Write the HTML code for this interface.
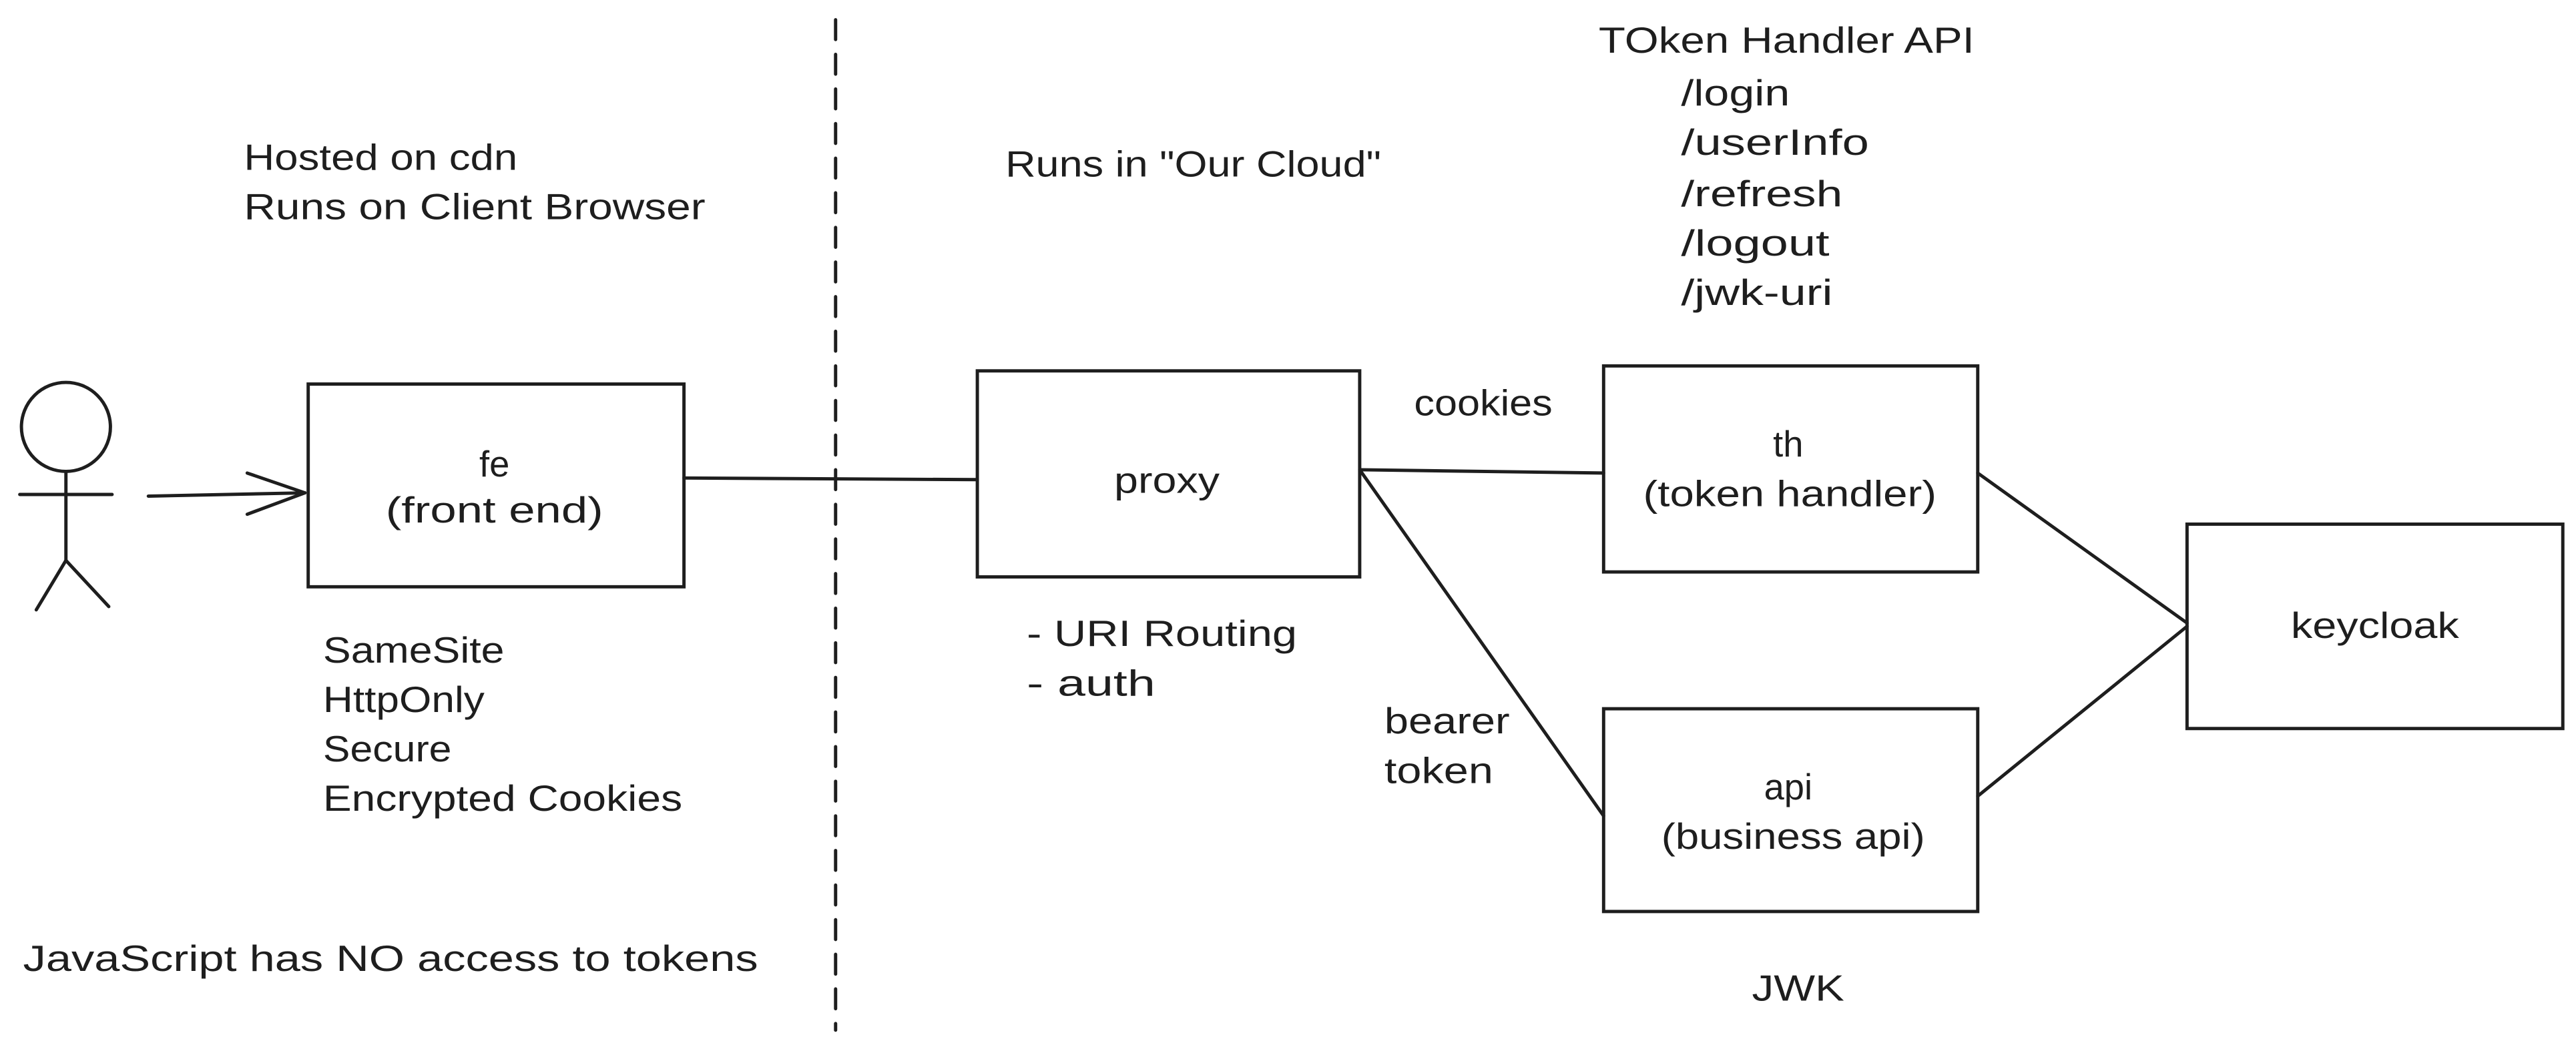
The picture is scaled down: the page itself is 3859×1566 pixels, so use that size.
<!DOCTYPE html>
<html><head><meta charset="utf-8"><style>
html,body{margin:0;padding:0;background:#fff;}
svg{display:block;}
text{font-family:"Liberation Sans",sans-serif;font-size:22px;fill:#1e1e1e;}
</style></head><body>
<svg width="3859" height="1566" viewBox="0 0 1563 634" preserveAspectRatio="none" xmlns="http://www.w3.org/2000/svg">
<rect width="1563" height="634" fill="#fff"/>
<g stroke="#1e1e1e" stroke-width="2" fill="none" stroke-linecap="round">
<!-- stick figure -->
<circle cx="40" cy="259" r="27"/>
<line x1="40" y1="286" x2="40" y2="340"/>
<line x1="12" y1="300" x2="68" y2="300"/>
<line x1="40" y1="340" x2="22" y2="370"/>
<line x1="40" y1="340" x2="66" y2="368"/>
<!-- arrow -->
<line x1="90" y1="301" x2="185" y2="299"/>
<line x1="185" y1="299" x2="150" y2="287"/>
<line x1="185" y1="299" x2="150" y2="312"/>
<!-- dashed divider -->
<line x1="507" y1="12" x2="507" y2="625" stroke-dasharray="12,9"/>
<!-- boxes -->
<rect x="187" y="233" width="228" height="123"/>
<rect x="593" y="225" width="232" height="125"/>
<rect x="973" y="222" width="227" height="125"/>
<rect x="973" y="430" width="227" height="123"/>
<rect x="1327" y="318" width="228" height="124"/>
<!-- connectors -->
<line x1="415" y1="290" x2="593" y2="291"/>
<line x1="825" y1="285" x2="973" y2="287"/>
<line x1="825" y1="285" x2="973" y2="495"/>
<line x1="1200" y1="287" x2="1327" y2="378"/>
<line x1="1200" y1="483" x2="1327" y2="380"/>
</g>
<g text-anchor="middle">
<text x="300" y="289">fe</text>
<text x="300" y="317" textLength="132" lengthAdjust="spacingAndGlyphs">(front end)</text>
<text x="708" y="299" textLength="64" lengthAdjust="spacingAndGlyphs">proxy</text>
<text x="1085" y="277">th</text>
<text x="1086" y="307" textLength="178" lengthAdjust="spacingAndGlyphs">(token handler)</text>
<text x="1085" y="485">api</text>
<text x="1088" y="515" textLength="160" lengthAdjust="spacingAndGlyphs">(business api)</text>
<text x="1441" y="387" textLength="102" lengthAdjust="spacingAndGlyphs">keycloak</text>
</g>
<text x="148" y="103" textLength="166" lengthAdjust="spacingAndGlyphs">Hosted on cdn</text>
<text x="148" y="133" textLength="280" lengthAdjust="spacingAndGlyphs">Runs on Client Browser</text>
<text x="610" y="107" textLength="228" lengthAdjust="spacingAndGlyphs">Runs in "Our Cloud"</text>
<text x="970" y="32" textLength="228" lengthAdjust="spacingAndGlyphs">TOken Handler API</text>
<text x="1020" y="64" textLength="66" lengthAdjust="spacingAndGlyphs">/login</text>
<text x="1020" y="94" textLength="114" lengthAdjust="spacingAndGlyphs">/userInfo</text>
<text x="1020" y="125" textLength="98" lengthAdjust="spacingAndGlyphs">/refresh</text>
<text x="1020" y="155" textLength="90" lengthAdjust="spacingAndGlyphs">/logout</text>
<text x="1020" y="185" textLength="92" lengthAdjust="spacingAndGlyphs">/jwk-uri</text>
<text x="858" y="252" textLength="84" lengthAdjust="spacingAndGlyphs">cookies</text>
<text x="840" y="445" textLength="76" lengthAdjust="spacingAndGlyphs">bearer</text>
<text x="840" y="475" textLength="66" lengthAdjust="spacingAndGlyphs">token</text>
<text x="623" y="392" textLength="164" lengthAdjust="spacingAndGlyphs">- URI Routing</text>
<text x="623" y="422" textLength="78" lengthAdjust="spacingAndGlyphs">- auth</text>
<text x="196" y="402" textLength="110" lengthAdjust="spacingAndGlyphs">SameSite</text>
<text x="196" y="432" textLength="98" lengthAdjust="spacingAndGlyphs">HttpOnly</text>
<text x="196" y="462" textLength="78" lengthAdjust="spacingAndGlyphs">Secure</text>
<text x="196" y="492" textLength="218" lengthAdjust="spacingAndGlyphs">Encrypted Cookies</text>
<text x="14" y="589" textLength="446" lengthAdjust="spacingAndGlyphs">JavaScript has NO access to tokens</text>
<text x="1063" y="607" textLength="56" lengthAdjust="spacingAndGlyphs">JWK</text>
</svg>
</body></html>
